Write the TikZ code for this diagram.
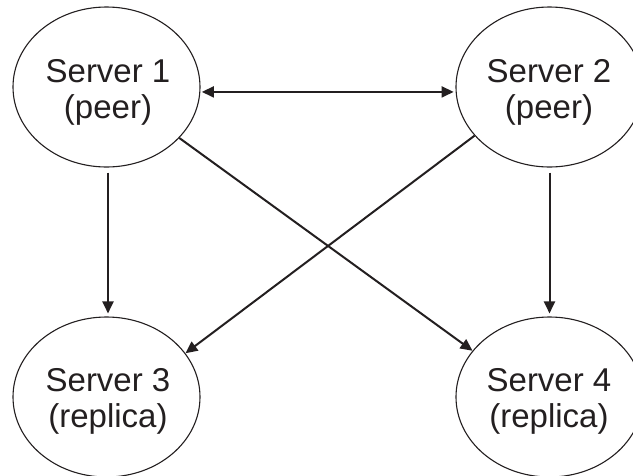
\documentclass[tikz,border=0pt]{standalone}
\usepackage{fontspec}
\setmainfont{Liberation Sans}
\usetikzlibrary{arrows.meta,shapes.geometric}
\definecolor{ink}{RGB}{35,31,32}
\begin{document}
\begin{tikzpicture}[x=1pt,y=-1pt,
  srv/.style={draw=ink,line width=1.1pt,ellipse,minimum width=187pt,minimum height=160pt,inner sep=0pt},
  lbl/.style={text=ink,font=\fontsize{33}{36}\selectfont,align=center,inner sep=0pt},
  arr/.style={draw=ink,line width=2pt,-{Triangle[length=12pt,width=11pt]}},
  darr/.style={draw=ink,line width=2pt,{Triangle[length=12pt,width=11pt]}-{Triangle[length=12pt,width=11pt]}}]
\useasboundingbox (0,0) rectangle (633,475);
\begin{scope}
\clip (0,0) rectangle (633,475);
\node[srv] (s1) at (106.5,87) {};
\node[srv] (s2) at (549.5,87) {};
\node[srv] (s3) at (106.5,397) {};
\node[srv] (s4) at (549.5,397) {};
\end{scope}
\node[lbl] (t1) at (108,92.5) {Server 1\\(peer)};
\node[lbl] (t2) at (549,92.5) {Server 2\\(peer)};
\node[lbl] (t3) at (108,401) {Server 3\\(replica)};
\node[lbl] (t4) at (549,401) {Server 4\\(replica)};
\draw[darr,shorten <=1.5pt,shorten >=2pt] (s1.-3.7) -- (s2.183.7);
\draw[arr,shorten <=5pt,shorten >=3pt] ([xshift=1.5pt]s1.south) -- ([xshift=1.5pt]s3.north);
\draw[arr,shorten <=5pt,shorten >=3pt] (s2.south) -- (s4.north);
\draw[arr] (s1.-35) -- (s4.149);
\draw[arr] (s2.213) -- (s3.29);
\end{tikzpicture}
\end{document}
